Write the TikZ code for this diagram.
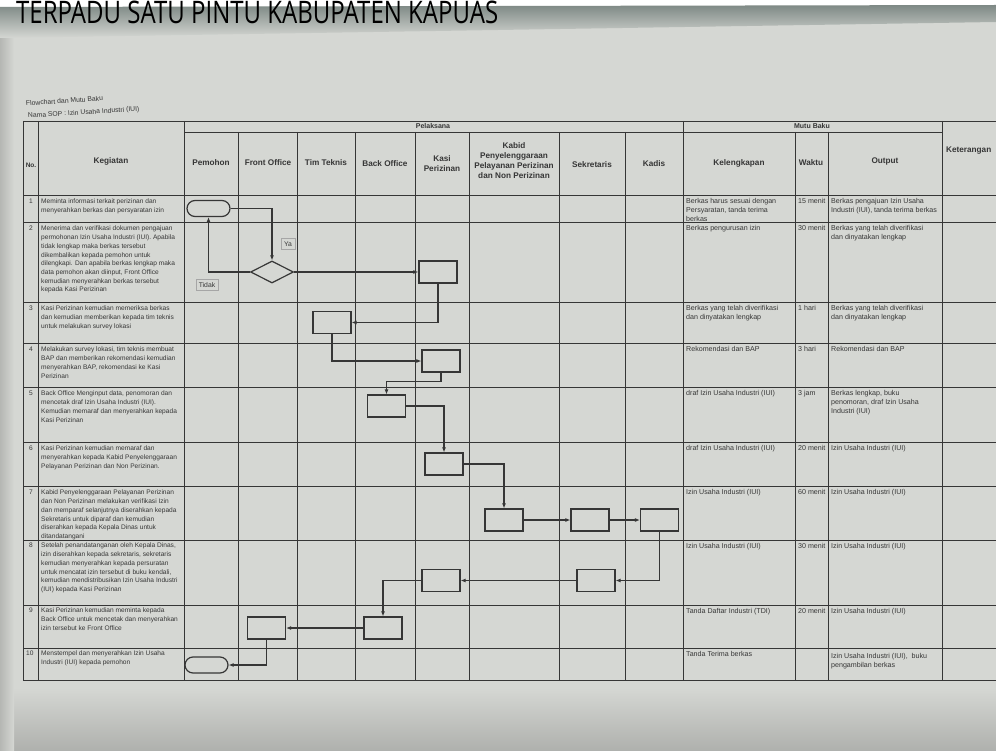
\documentclass[tikz,border=0pt]{standalone}
\usepackage{graphicx}
\usepackage{fontspec}
\setmainfont{Liberation Sans}
\newfontfamily\titlefont{Open Sans}
\usetikzlibrary{arrows.meta,shapes.geometric}
\definecolor{paper}{HTML}{D5D7D3}
\definecolor{ink}{HTML}{363636}
\definecolor{band}{HTML}{7E8985}
\tikzset{
  gridline/.style={draw=ink, line width=0.9pt},
  flowbox/.style={draw=ink, line width=1.2pt, minimum width=38pt, minimum height=22pt, inner sep=0pt},
  term/.style={draw=ink, line width=1.2pt, rounded corners=8pt, minimum width=43pt, minimum height=16pt, inner sep=0pt},
  dec/.style={draw=ink, line width=1.2pt, diamond, aspect=2, minimum width=43pt, minimum height=22pt, inner sep=0pt},
  flow/.style={draw=ink, line width=1.1pt, -{Latex[length=5pt,width=4pt]}},
  hdr/.style={font=\fontsize{8.2}{10}\selectfont\bfseries, text=ink, align=center, inner sep=0pt},
  body/.style={font=\fontsize{6.6}{8.7}\selectfont, text=ink, align=left, anchor=north west, inner sep=0pt},
  mutu/.style={font=\fontsize{7.1}{9.3}\selectfont, text=ink, align=left, anchor=north west, inner sep=0pt},
  lbl/.style={draw=gray!70, line width=0.3pt, font=\fontsize{6.8}{8}\selectfont, text=ink, inner sep=3pt},
}
\begin{document}
\begin{tikzpicture}[x=1pt,y=-1pt]
\useasboundingbox (0,0) rectangle (996,751);
% background (photo of a page)
\fill[paper] (0,0) rectangle (996,751);
\shade[top color=paper, bottom color=paper!82!black] (0,688) rectangle (996,751);
\shade[left color=paper!85!black, right color=paper] (0,7) rectangle (14,751);
\fill[white] (0,0) rectangle (996,7);
\shade[top color=band, bottom color=paper] (0,7) -- (996,5) -- (996,22) -- (0,38) -- cycle;
\node[anchor=base west, inner sep=0pt] (title) at (16,24) {\resizebox{482pt}{22.5pt}{\titlefont TERPADU SATU PINTU KABUPATEN KAPUAS}};
\node[anchor=base west, inner sep=0pt, font=\fontsize{6.8}{8}\selectfont, text=ink, rotate=4] (sub1) at (26,106) {Flowchart dan Mutu Baku};
\node[anchor=base west, inner sep=0pt, font=\fontsize{6.8}{8}\selectfont, text=ink, rotate=3.5] (sub2) at (28,118) {Nama SOP : Izin Usaha Industri (IUI)};
% table grid
\draw[gridline] (23,121) -- (996,121);
\draw[gridline] (184,132) -- (942,132);
\foreach \yy in {195,222,302,343,387,442,486,540,605,648,680}
  \draw[gridline] (23,\yy) -- (996,\yy);
\foreach \xx in {23,38,184,683,942}
  \draw[gridline] (\xx,121) -- (\xx,680);
\foreach \xx in {238,297,355,415,469,559,625,795,828}
  \draw[gridline] (\xx,132) -- (\xx,680);
% headers
\node[hdr, font=\fontsize{7}{8}\selectfont\bfseries] (hpel) at (433,126.5) {Pelaksana};
\node[hdr, font=\fontsize{7}{8}\selectfont\bfseries] (hmutu) at (812,126.5) {Mutu Baku};
\node[hdr, font=\fontsize{6.5}{8}\selectfont\bfseries] (hno) at (31,165) {No.};
\node[hdr] (hkeg) at (111,161) {Kegiatan};
\node[hdr] (hpem) at (211,163) {Pemohon};
\node[hdr] (hfo) at (268,163) {Front Office};
\node[hdr] (htt) at (326,163) {Tim Teknis};
\node[hdr] (hbo) at (385,164) {Back Office};
\node[hdr] (hkp) at (442,164) {Kasi\\Perizinan};
\node[hdr] (hkab) at (514,161) {Kabid\\Penyelenggaraan\\Pelayanan Perizinan\\dan Non Perizinan};
\node[hdr] (hsek) at (592,165) {Sekretaris};
\node[hdr] (hkad) at (654,164) {Kadis};
\node[hdr] (hkel) at (739,163) {Kelengkapan};
\node[hdr] (hwak) at (811,163) {Waktu};
\node[hdr] (hout) at (885,161) {Output};
\node[hdr, anchor=west] (hket) at (946,151) {Keterangan};
% numbers
\node[body] (n1) at (29,199) {1};
\node[body] (n2) at (29,226) {2};
\node[body] (n3) at (29,306) {3};
\node[body] (n4) at (29,347) {4};
\node[body] (n5) at (29,391) {5};
\node[body] (n6) at (29,446) {6};
\node[body] (n7) at (29,490) {7};
\node[body] (n8) at (29,543) {8};
\node[body] (n9) at (29,608) {9};
\node[body] (n10) at (26,651) {10};
% kegiatan
\node[body] (k1) at (41,199) {Meminta informasi terkait perizinan dan\\menyerahkan berkas dan persyaratan izin};
\node[body] (k2) at (41,226) {Menerima dan verifikasi dokumen pengajuan\\permohonan Izin Usaha Industri (IUI). Apabila\\tidak lengkap maka berkas tersebut\\dikembalikan kepada pemohon untuk\\dilengkapi. Dan apabila berkas lengkap maka\\data pemohon akan diinput, Front Office\\kemudian menyerahkan berkas tersebut\\kepada Kasi Perizinan};
\node[body] (k3) at (41,306) {Kasi Perizinan kemudian memeriksa berkas\\dan kemudian memberikan kepada tim teknis\\untuk melakukan survey lokasi};
\node[body] (k4) at (41,347) {Melakukan survey lokasi, tim teknis membuat\\BAP dan memberikan rekomendasi kemudian\\menyerahkan BAP, rekomendasi ke Kasi\\Perizinan};
\node[body] (k5) at (41,391) {Back Office Menginput data, penomoran dan\\mencetak draf Izin Usaha Industri (IUI).\\Kemudian memaraf dan menyerahkan kepada\\Kasi Perizinan};
\node[body] (k6) at (41,446) {Kasi Perizinan kemudian memaraf dan\\menyerahkan kepada Kabid Penyelenggaraan\\Pelayanan Perizinan dan Non Perizinan.};
\node[body] (k7) at (41,490) {Kabid Penyelenggaraan Pelayanan Perizinan\\dan Non Perizinan melakukan verifikasi Izin\\dan memparaf selanjutnya diserahkan kepada\\Sekretaris untuk diparaf dan kemudian\\diserahkan kepada Kepala Dinas untuk\\ditandatangani};
\node[body] (k8) at (41,543) {Setelah penandatanganan oleh Kepala Dinas,\\izin diserahkan kepada sekretaris, sekretaris\\kemudian menyerahkan kepada persuratan\\untuk mencatat izin tersebut di buku kendali,\\kemudian mendistribusikan Izin Usaha Industri\\(IUI) kepada Kasi Perizinan};
\node[body] (k9) at (41,608) {Kasi Perizinan kemudian meminta kepada\\Back Office untuk mencetak dan menyerahkan\\izin tersebut ke Front Office};
\node[body] (k10) at (41,651) {Menstempel dan menyerahkan Izin Usaha\\Industri (IUI) kepada pemohon};
% kelengkapan
\node[mutu] (l1) at (686,198) {Berkas harus sesuai dengan\\Persyaratan, tanda terima\\berkas};
\node[mutu] (l2) at (686,225) {Berkas pengurusan izin};
\node[mutu] (l3) at (686,305) {Berkas yang telah diverifikasi\\dan dinyatakan lengkap};
\node[mutu] (l4) at (686,346) {Rekomendasi dan BAP};
\node[mutu] (l5) at (686,390) {draf Izin Usaha Industri (IUI)};
\node[mutu] (l6) at (686,445) {draf Izin Usaha Industri (IUI)};
\node[mutu] (l7) at (686,489) {Izin Usaha Industri (IUI)};
\node[mutu] (l8) at (686,543) {Izin Usaha Industri (IUI)};
\node[mutu] (l9) at (686,608) {Tanda Daftar Industri (TDI)};
\node[mutu] (l10) at (686,651) {Tanda Terima berkas};
% waktu
\node[mutu] (w1) at (798,198) {15 menit};
\node[mutu] (w2) at (798,225) {30 menit};
\node[mutu] (w3) at (798,305) {1 hari};
\node[mutu] (w4) at (798,346) {3 hari};
\node[mutu] (w5) at (798,390) {3 jam};
\node[mutu] (w6) at (798,445) {20 menit};
\node[mutu] (w7) at (798,489) {60 menit};
\node[mutu] (w8) at (798,543) {30 menit};
\node[mutu] (w9) at (798,608) {20 menit};
% output
\node[mutu] (o1) at (831,198) {Berkas pengajuan Izin Usaha\\Industri (IUI), tanda terima berkas};
\node[mutu] (o2) at (831,225) {Berkas yang telah diverifikasi\\dan dinyatakan lengkap};
\node[mutu] (o3) at (831,305) {Berkas yang telah diverifikasi\\dan dinyatakan lengkap};
\node[mutu] (o4) at (831,346) {Rekomendasi dan BAP};
\node[mutu] (o5) at (831,390) {Berkas lengkap, buku\\penomoran, draf Izin Usaha\\Industri (IUI)};
\node[mutu] (o6) at (831,445) {Izin Usaha Industri (IUI)};
\node[mutu] (o7) at (831,489) {Izin Usaha Industri (IUI)};
\node[mutu] (o8) at (831,543) {Izin Usaha Industri (IUI)};
\node[mutu] (o9) at (831,608) {Izin Usaha Industri (IUI)};
\node[mutu] (o10) at (831,653) {Izin Usaha Industri (IUI),\ \ buku\\pengambilan berkas};
% flowchart shapes
\node[term] (start) at (208.5,208.5) {};
\node[dec] (dec) at (272,272) {};
\node[flowbox] (b1) at (438,272) {};
\node[flowbox] (b2) at (332,322.5) {};
\node[flowbox] (b3) at (441,361) {};
\node[flowbox] (b4) at (386.5,406) {};
\node[flowbox] (b5) at (444,464) {};
\node[flowbox] (b6) at (504,520) {};
\node[flowbox] (b7) at (590,520) {};
\node[flowbox] (b8) at (659.5,520) {};
\node[flowbox] (b9) at (596,580.5) {};
\node[flowbox] (b10) at (441,580.5) {};
\node[flowbox] (b11) at (383,628) {};
\node[flowbox] (b12) at (266.5,628) {};
\node[term] (end) at (206.5,665) {};
\node[lbl] (ya) at (288,244) {Ya};
\node[lbl] (tidak) at (207,285) {Tidak};
% connectors
\draw[flow] (start.east) -| (dec.north);
\draw[flow] (dec.west) -| (start.south);
\draw[flow] (dec.east) -- (b1.west);
\draw[flow] (b1.south) |- (b2.east);
\draw[flow] (b2.south) |- (b3.west);
\draw[flow] (b3.south) -- ++(0,9) -| (b4.north);
\draw[flow] (b4.east) -| (b5.north);
\draw[flow] (b5.east) -| (b6.north);
\draw[flow] (b6.east) -- (b7.west);
\draw[flow] (b7.east) -- (b8.west);
\draw[flow] (b8.south) |- (b9.east);
\draw[flow] (b9.west) -- (b10.east);
\draw[flow] (b10.west) -| (b11.north);
\draw[flow] (b11.west) -- (b12.east);
\draw[flow] (b12.south) |- (end.east);
\end{tikzpicture}
\end{document}
